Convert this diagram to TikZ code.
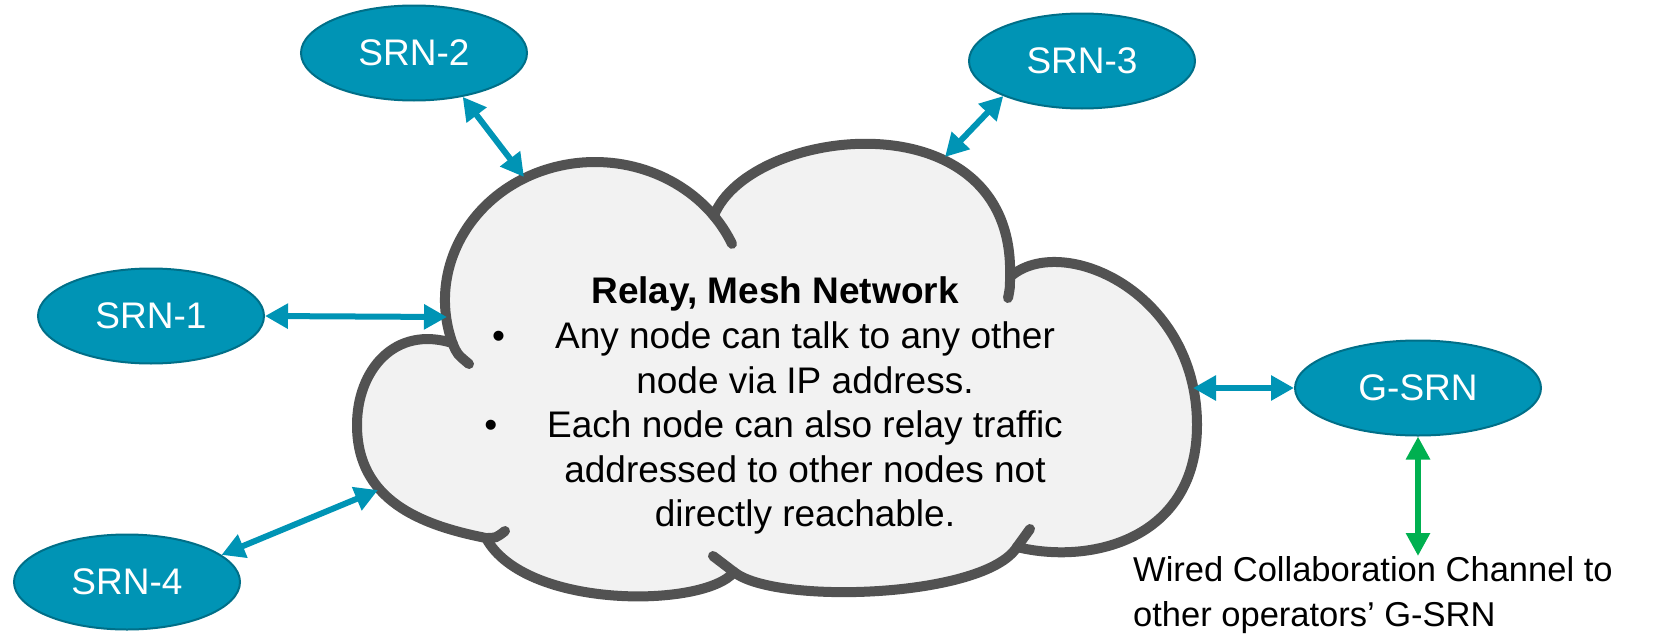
\documentclass[tikz,border=0pt]{standalone}
\usepackage{fontspec}
\setmainfont{Liberation Sans}
\usetikzlibrary{arrows.meta,shapes.geometric}
\definecolor{nodeteal}{HTML}{0094B5}
\definecolor{nodeedge}{HTML}{006F88}
\definecolor{arrteal}{HTML}{0094B5}
\definecolor{cloudedge}{HTML}{525252}
\definecolor{cloudfill}{HTML}{F2F2F2}
\definecolor{wiregreen}{HTML}{00B050}
\tikzset{
  srn/.style={ellipse, fill=nodeteal, draw=nodeedge, line width=2pt,
    minimum width=226pt, minimum height=95pt, inner sep=0pt, text=white,
    font=\fontsize{37}{44}\selectfont},
  tealarrow/.style={draw=arrteal, line width=6pt,
    {Triangle[length=23pt,width=24pt]}-{Triangle[length=23pt,width=24pt]}},
  greenarrow/.style={draw=wiregreen, line width=6.5pt,
    {Triangle[length=23pt,width=23pt]}-{Triangle[length=23pt,width=23pt]}},
  cloudline/.style={draw=cloudedge, line width=10pt, fill=cloudfill, line join=round},
  cloudtail/.style={draw=cloudedge, line width=10pt, line cap=round},
}
\begin{document}
\begin{tikzpicture}[x=1pt,y=-1pt]
\useasboundingbox (0,0) rectangle (1662,637);
% cloud outline
\path[cloudline]
  (452.5,343.1) arc[start angle=161.8, end angle=322.4, x radius=150, y radius=138]
  .. controls (750,125) and (1016,95) .. (1010,277)
  .. controls (1060,232) and (1197,290) .. (1197,425)
  .. controls (1197,540) and (1090,565) .. (1017,547)
  .. controls (985,598) and (775,605) .. (734,572)
  .. controls (705,608) and (525,610) .. (486,538)
  .. controls (420,525) and (357,500) .. (357,425)
  .. controls (357,370) and (395,325) .. (452.5,343.1)
  -- cycle;
% inner tails of the cloud
\draw[cloudtail] (452.5,343.1) .. controls (457,354) .. (469,364);
\draw[cloudtail] (713.8,215.8) arc[start angle=322.4, end angle=336, x radius=150, y radius=138];
\draw[cloudtail] (1010,277) .. controls (1010,288) .. (1008,298);
\draw[cloudtail] (1017,547) .. controls (1024,538) .. (1030,529);
\draw[cloudtail] (734,572) .. controls (724,564) .. (713,556);
\draw[cloudtail] (486,538) .. controls (496,538) .. (505,531);
% cloud text
\node[anchor=base, inner sep=0pt, font=\bfseries\fontsize{37}{44.6}\selectfont] (title) at (775,303) {Relay, Mesh Network};
\node[anchor=north, align=center, inner sep=0pt, font=\fontsize{37}{44.6}\selectfont] (body) at (805,321.5)
  {\llap{•\hspace{50pt}}Any node can talk to any other\\node via IP address.\\\llap{•\hspace{50pt}}Each node can also relay traffic\\addressed to other nodes not\\directly reachable.};
% nodes
\node[srn] (srn1) at (151,316) {SRN-1};
\node[srn] (srn2) at (414,53) {SRN-2};
\node[srn] (srn3) at (1082,61) {SRN-3};
\node[srn] (srn4) at (127,582) {SRN-4};
\node[srn, minimum width=246pt] (gsrn) at (1418,388) {G-SRN};
\node[anchor=north west, align=left, inner sep=0pt, font=\fontsize{34.5}{45}\selectfont] (wired) at (1133,556)
  {Wired Collaboration Channel to\\other operators’ G-SRN};
% cloud attachment points
\coordinate (c1) at (447,317);
\coordinate (c2) at (524,177);
\coordinate (c3) at (945,157);
\coordinate (c4) at (378,490);
\coordinate (cg) at (1193,388);
% connectors
\draw[tealarrow] (srn1.east) -- (c1);
\draw[tealarrow] (srn2.-42) -- (c2);
\draw[tealarrow] (srn3.-156) -- (c3);
\draw[tealarrow] (srn4.16) -- (c4);
\draw[tealarrow] (cg) -- (gsrn.west);
\draw[greenarrow] (gsrn.south) -- (gsrn.south |- wired.north);
\end{tikzpicture}
\end{document}
